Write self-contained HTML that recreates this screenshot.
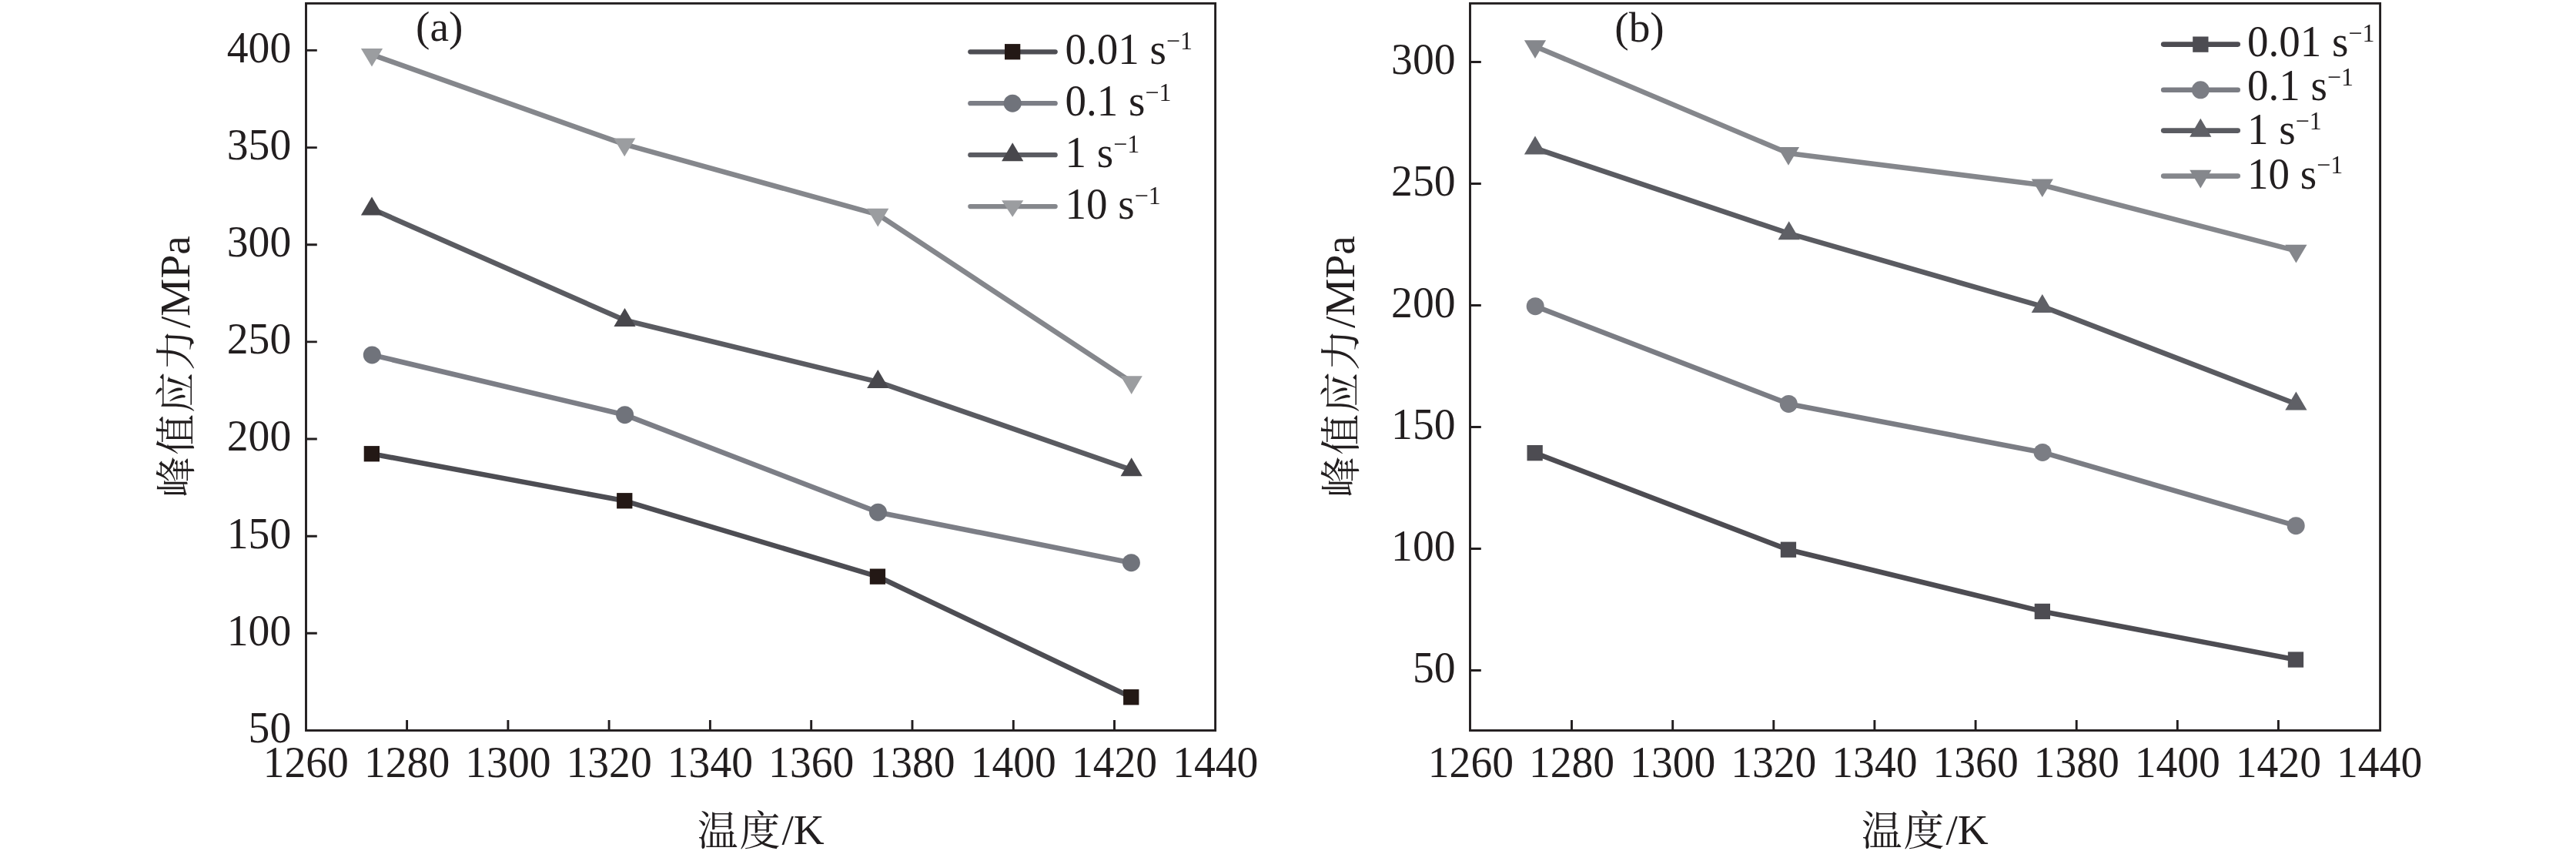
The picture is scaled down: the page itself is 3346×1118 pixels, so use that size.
<!DOCTYPE html>
<html lang="zh"><head><meta charset="utf-8"><title>峰值应力-温度</title>
<style>html,body{margin:0;padding:0;background:#fff;overflow:hidden}svg{display:block}text{font-family:"Liberation Serif","Noto Serif CJK SC",serif;fill:#221e1f}.cjk{font-family:"Liberation Serif","Noto Serif CJK SC",serif}</style></head><body>
<svg width="3346" height="1118" viewBox="0 0 3346 1118">
<defs><filter id="nf" x="-5%" y="-20%" width="110%" height="140%"><feOffset dx="0" dy="0"/></filter></defs>
<rect width="3346" height="1118" fill="#fff"/>
<g>
<polyline points="482.8,589.3 811.3,650.3 1140.0,748.6 1469.3,905.3" fill="none" stroke="#4d4d53" stroke-width="6.6" stroke-linejoin="round"/>
<rect x="472.7" y="579.1" width="20.3" height="20.3" fill="#231815"/>
<rect x="801.1" y="640.1" width="20.3" height="20.3" fill="#231815"/>
<rect x="1129.8" y="738.5" width="20.3" height="20.3" fill="#231815"/>
<rect x="1459.1" y="895.1" width="20.3" height="20.3" fill="#231815"/>
<polyline points="483.3,460.9 811.6,538.7 1140.5,665.2 1469.4,730.7" fill="none" stroke="#7c7e86" stroke-width="6.6" stroke-linejoin="round"/>
<circle cx="483.3" cy="460.9" r="11.5" fill="#70737b"/>
<circle cx="811.6" cy="538.7" r="11.5" fill="#70737b"/>
<circle cx="1140.5" cy="665.2" r="11.5" fill="#70737b"/>
<circle cx="1469.4" cy="730.7" r="11.5" fill="#70737b"/>
<polyline points="483.0,271.3 811.5,415.8 1140.3,495.9 1469.7,610.1" fill="none" stroke="#5a5b61" stroke-width="6.6" stroke-linejoin="round"/>
<polygon points="483.0,255.4 497.1,279.4 468.9,279.4" fill="#48474c"/>
<polygon points="811.5,399.9 825.6,423.9 797.4,423.9" fill="#48474c"/>
<polygon points="1140.3,480.0 1154.4,504.0 1126.2,504.0" fill="#48474c"/>
<polygon points="1469.7,594.2 1483.8,618.2 1455.6,618.2" fill="#48474c"/>
<polyline points="483.0,70.8 811.2,187.4 1140.3,278.6 1469.7,496.1" fill="none" stroke="#85878c" stroke-width="6.6" stroke-linejoin="round"/>
<polygon points="483.0,86.6 497.1,62.9 468.9,62.9" fill="#9b9da0"/>
<polygon points="811.2,203.2 825.3,179.5 797.1,179.5" fill="#9b9da0"/>
<polygon points="1140.3,294.4 1154.4,270.7 1126.2,270.7" fill="#9b9da0"/>
<polygon points="1469.7,511.9 1483.8,488.2 1455.6,488.2" fill="#9b9da0"/>
<rect x="397.5" y="4.4" width="1181.1" height="944.1" fill="none" stroke="#221e1f" stroke-width="2.9"/>
<path d="M528.6,948.5v-13.4 M659.9,948.5v-13.4 M791.1,948.5v-13.4 M922.4,948.5v-13.4 M1053.7,948.5v-13.4 M1185.0,948.5v-13.4 M1316.3,948.5v-13.4 M1447.5,948.5v-13.4 M397.5,65.4h14.3 M397.5,191.6h14.3 M397.5,317.7h14.3 M397.5,443.9h14.3 M397.5,570.0h14.3 M397.5,696.2h14.3 M397.5,822.3h14.3" stroke="#221e1f" stroke-width="2.9" fill="none"/>
<text transform="translate(397.3,1009) scale(1,1.024)" font-size="55.6" text-anchor="middle">1260</text>
<text transform="translate(528.6,1009) scale(1,1.024)" font-size="55.6" text-anchor="middle">1280</text>
<text transform="translate(659.9,1009) scale(1,1.024)" font-size="55.6" text-anchor="middle">1300</text>
<text transform="translate(791.1,1009) scale(1,1.024)" font-size="55.6" text-anchor="middle">1320</text>
<text transform="translate(922.4,1009) scale(1,1.024)" font-size="55.6" text-anchor="middle">1340</text>
<text transform="translate(1053.7,1009) scale(1,1.024)" font-size="55.6" text-anchor="middle">1360</text>
<text transform="translate(1185.0,1009) scale(1,1.024)" font-size="55.6" text-anchor="middle">1380</text>
<text transform="translate(1316.3,1009) scale(1,1.024)" font-size="55.6" text-anchor="middle">1400</text>
<text transform="translate(1447.5,1009) scale(1,1.024)" font-size="55.6" text-anchor="middle">1420</text>
<text transform="translate(1578.8,1009) scale(1,1.024)" font-size="55.6" text-anchor="middle">1440</text>
<text transform="translate(378.2,80.8) scale(1,1.024)" font-size="55.6" text-anchor="end">400</text>
<text transform="translate(378.2,207.0) scale(1,1.024)" font-size="55.6" text-anchor="end">350</text>
<text transform="translate(378.2,333.1) scale(1,1.024)" font-size="55.6" text-anchor="end">300</text>
<text transform="translate(378.2,459.3) scale(1,1.024)" font-size="55.6" text-anchor="end">250</text>
<text transform="translate(378.2,585.4) scale(1,1.024)" font-size="55.6" text-anchor="end">200</text>
<text transform="translate(378.2,711.6) scale(1,1.024)" font-size="55.6" text-anchor="end">150</text>
<text transform="translate(378.2,837.7) scale(1,1.024)" font-size="55.6" text-anchor="end">100</text>
<text transform="translate(378.2,963.9) scale(1,1.024)" font-size="55.6" text-anchor="end">50</text>
<text x="570.8" y="53.0" font-size="55.3" text-anchor="middle">(a)</text>
<text class="cjk" x="988.2" y="1096" font-size="55.3" text-anchor="middle"><tspan font-size="53" letter-spacing="1.9" dy="2.0">温度</tspan><tspan dy="-2.0">/K</tspan></text>
<text class="cjk" transform="translate(246,476) rotate(-90)" font-size="55.3" text-anchor="middle"><tspan font-size="53" letter-spacing="1.9" dy="2.0">峰值应力</tspan><tspan dy="-2.0">/MPa</tspan></text>
<line x1="1260.3" y1="67.3" x2="1370.7" y2="67.3" stroke="#4d4d53" stroke-width="6.2" stroke-linecap="round"/>
<rect x="1305.0" y="57.1" width="20.3" height="20.3" fill="#231815"/>
<text transform="translate(1383.5,83.4) scale(1,1.024)" font-size="55.0" filter="url(#nf)">0.01 s<tspan font-size="32" dy="-18.7">−1</tspan></text>
<line x1="1260.3" y1="134.2" x2="1370.7" y2="134.2" stroke="#7c7e86" stroke-width="6.2" stroke-linecap="round"/>
<circle cx="1315.2" cy="134.2" r="11.5" fill="#70737b"/>
<text transform="translate(1383.5,150.1) scale(1,1.024)" font-size="55.0" filter="url(#nf)">0.1 s<tspan font-size="32" dy="-18.7">−1</tspan></text>
<line x1="1260.3" y1="201.2" x2="1370.7" y2="201.2" stroke="#5a5b61" stroke-width="6.2" stroke-linecap="round"/>
<polygon points="1315.2,185.3 1329.3,209.3 1301.1,209.3" fill="#48474c"/>
<text transform="translate(1383.5,217.0) scale(1,1.024)" font-size="55.0" filter="url(#nf)">1 s<tspan font-size="32" dy="-18.7">−1</tspan></text>
<line x1="1260.3" y1="268.1" x2="1370.7" y2="268.1" stroke="#85878c" stroke-width="6.2" stroke-linecap="round"/>
<polygon points="1315.2,281.7 1329.3,260.2 1301.1,260.2" fill="#9b9da0"/>
<text transform="translate(1383.5,283.9) scale(1,1.024)" font-size="55.0" filter="url(#nf)">10 s<tspan font-size="32" dy="-18.7">−1</tspan></text>
</g>
<g>
<polyline points="1993.7,588.1 2323.0,713.8 2652.8,793.9 2982.0,856.5" fill="none" stroke="#4d4c52" stroke-width="6.6" stroke-linejoin="round"/>
<rect x="1983.5" y="578.0" width="20.3" height="20.3" fill="#4d4c52"/>
<rect x="2312.8" y="703.6" width="20.3" height="20.3" fill="#4d4c52"/>
<rect x="2642.7" y="783.8" width="20.3" height="20.3" fill="#4d4c52"/>
<rect x="2971.8" y="846.4" width="20.3" height="20.3" fill="#4d4c52"/>
<polyline points="1994.2,397.7 2323.3,524.4 2653.1,587.4 2982.2,682.7" fill="none" stroke="#7b7d84" stroke-width="6.6" stroke-linejoin="round"/>
<circle cx="1994.2" cy="397.7" r="11.5" fill="#7b7d84"/>
<circle cx="2323.3" cy="524.4" r="11.5" fill="#7b7d84"/>
<circle cx="2653.1" cy="587.4" r="11.5" fill="#7b7d84"/>
<circle cx="2982.2" cy="682.7" r="11.5" fill="#7b7d84"/>
<polyline points="1994.0,192.5 2323.7,303.2 2652.8,397.9 2982.4,524.5" fill="none" stroke="#5a5b61" stroke-width="6.6" stroke-linejoin="round"/>
<polygon points="1994.0,176.6 2008.1,200.6 1979.9,200.6" fill="#5f6066"/>
<polygon points="2323.7,287.3 2337.8,311.3 2309.6,311.3" fill="#5f6066"/>
<polygon points="2652.8,382.0 2666.9,406.0 2638.7,406.0" fill="#5f6066"/>
<polygon points="2982.4,508.6 2996.5,532.6 2968.3,532.6" fill="#5f6066"/>
<polyline points="1994.0,60.2 2323.0,199.0 2652.8,240.3 2982.4,325.6" fill="none" stroke="#85878c" stroke-width="6.6" stroke-linejoin="round"/>
<polygon points="1994.0,76.0 2008.1,52.3 1979.9,52.3" fill="#85878c"/>
<polygon points="2323.0,214.8 2337.1,191.1 2308.9,191.1" fill="#85878c"/>
<polygon points="2652.8,256.1 2666.9,232.4 2638.7,232.4" fill="#85878c"/>
<polygon points="2982.4,341.4 2996.5,317.7 2968.3,317.7" fill="#85878c"/>
<rect x="1909.5" y="4.4" width="1182.1" height="944.1" fill="none" stroke="#221e1f" stroke-width="2.9"/>
<path d="M2041.5,948.5v-13.4 M2172.7,948.5v-13.4 M2303.8,948.5v-13.4 M2434.9,948.5v-13.4 M2566.1,948.5v-13.4 M2697.2,948.5v-13.4 M2828.3,948.5v-13.4 M2959.4,948.5v-13.4 M1909.5,80.5h14.3 M1909.5,238.5h14.3 M1909.5,396.5h14.3 M1909.5,554.5h14.3 M1909.5,712.5h14.3 M1909.5,870.5h14.3" stroke="#221e1f" stroke-width="2.9" fill="none"/>
<text transform="translate(1910.4,1009) scale(1,1.024)" font-size="55.6" text-anchor="middle">1260</text>
<text transform="translate(2041.5,1009) scale(1,1.024)" font-size="55.6" text-anchor="middle">1280</text>
<text transform="translate(2172.7,1009) scale(1,1.024)" font-size="55.6" text-anchor="middle">1300</text>
<text transform="translate(2303.8,1009) scale(1,1.024)" font-size="55.6" text-anchor="middle">1320</text>
<text transform="translate(2434.9,1009) scale(1,1.024)" font-size="55.6" text-anchor="middle">1340</text>
<text transform="translate(2566.1,1009) scale(1,1.024)" font-size="55.6" text-anchor="middle">1360</text>
<text transform="translate(2697.2,1009) scale(1,1.024)" font-size="55.6" text-anchor="middle">1380</text>
<text transform="translate(2828.3,1009) scale(1,1.024)" font-size="55.6" text-anchor="middle">1400</text>
<text transform="translate(2959.4,1009) scale(1,1.024)" font-size="55.6" text-anchor="middle">1420</text>
<text transform="translate(3090.6,1009) scale(1,1.024)" font-size="55.6" text-anchor="middle">1440</text>
<text transform="translate(1890.5,95.9) scale(1,1.024)" font-size="55.6" text-anchor="end">300</text>
<text transform="translate(1890.5,253.9) scale(1,1.024)" font-size="55.6" text-anchor="end">250</text>
<text transform="translate(1890.5,411.9) scale(1,1.024)" font-size="55.6" text-anchor="end">200</text>
<text transform="translate(1890.5,569.9) scale(1,1.024)" font-size="55.6" text-anchor="end">150</text>
<text transform="translate(1890.5,727.9) scale(1,1.024)" font-size="55.6" text-anchor="end">100</text>
<text transform="translate(1890.5,885.9) scale(1,1.024)" font-size="55.6" text-anchor="end">50</text>
<text x="2129.5" y="53.5" font-size="55.3" text-anchor="middle">(b)</text>
<text class="cjk" x="2500.2" y="1096" font-size="55.3" text-anchor="middle"><tspan font-size="53" letter-spacing="1.9" dy="2.0">温度</tspan><tspan dy="-2.0">/K</tspan></text>
<text class="cjk" transform="translate(1759,476) rotate(-90)" font-size="55.3" text-anchor="middle"><tspan font-size="53" letter-spacing="1.9" dy="2.0">峰值应力</tspan><tspan dy="-2.0">/MPa</tspan></text>
<line x1="2810.2" y1="57.6" x2="2906.7" y2="57.6" stroke="#4d4c52" stroke-width="6.6" stroke-linecap="round"/>
<rect x="2848.2" y="47.5" width="20.3" height="20.3" fill="#4d4c52"/>
<text transform="translate(2919.0,73.1) scale(1,1.024)" font-size="55.0" filter="url(#nf)">0.01 s<tspan font-size="32" dy="-18.7">−1</tspan></text>
<line x1="2810.2" y1="116.8" x2="2906.7" y2="116.8" stroke="#7b7d84" stroke-width="6.6" stroke-linecap="round"/>
<circle cx="2858.3" cy="116.8" r="11.5" fill="#7b7d84"/>
<text transform="translate(2919.0,130.0) scale(1,1.024)" font-size="55.0" filter="url(#nf)">0.1 s<tspan font-size="32" dy="-18.7">−1</tspan></text>
<line x1="2810.2" y1="169.6" x2="2906.7" y2="169.6" stroke="#5a5b61" stroke-width="6.6" stroke-linecap="round"/>
<polygon points="2858.3,153.7 2872.4,177.7 2844.2,177.7" fill="#5f6066"/>
<text transform="translate(2919.0,187.0) scale(1,1.024)" font-size="55.0" filter="url(#nf)">1 s<tspan font-size="32" dy="-18.7">−1</tspan></text>
<line x1="2810.2" y1="228.6" x2="2906.7" y2="228.6" stroke="#85878c" stroke-width="6.6" stroke-linecap="round"/>
<polygon points="2858.3,244.4 2872.4,220.7 2844.2,220.7" fill="#85878c"/>
<text transform="translate(2919.0,244.6) scale(1,1.024)" font-size="55.0" filter="url(#nf)">10 s<tspan font-size="32" dy="-18.7">−1</tspan></text>
</g>
</svg></body></html>
